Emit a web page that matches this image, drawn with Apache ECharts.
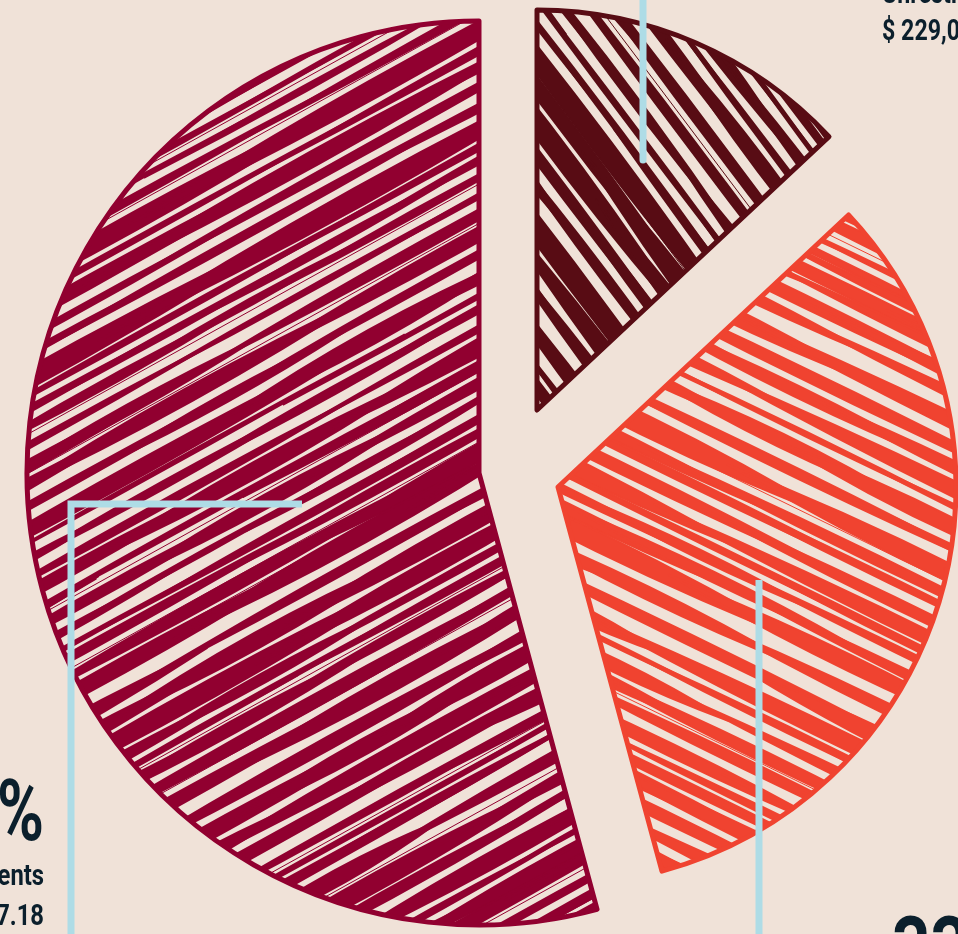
<!DOCTYPE html>
<html>
<head>
<meta charset="utf-8">
<script src="https://cdn.jsdelivr.net/npm/echarts@6/dist/echarts.min.js"></script>
<style>
  html, body { margin: 0; padding: 0; background: #F0E2D8; }
  #chart { width: 958px; height: 934px; }
</style>
</head>
<body>
<div id="chart"></div>
<script>
// data
var sliceNames = ['Unrestricted', 'Restricted', 'Endowments'];
var sliceAmounts = [229045, 576310, 953287.18];
var sliceColors = ['#580C14', '#F04330', '#910030'];

var W = 958, H = 934;
var lineBlue = '#AEDCE6';
var ink = '#0B1F2C';
var font = 'Roboto, "DejaVu Sans Condensed", sans-serif';

function lcg(s) {
    return function () {
        s = (s * 1664525 + 1013904223) % 4294967296;
        return s / 4294967296;
    };
}

// scribbled hatch texture, one full-size canvas per slice
function hatch(color, angleDeg, seed) {
    var c = document.createElement('canvas');
    c.width = W; c.height = H;
    var g = c.getContext('2d');
    g.strokeStyle = color;
    g.fillStyle = color;
    g.lineCap = 'round';
    g.lineJoin = 'round';
    var a = angleDeg * Math.PI / 180;
    var dx = Math.cos(a), dy = Math.sin(a), nx = -dy, ny = dx;
    var cx = W / 2, cy = H / 2, R = Math.hypot(W, H) / 2 + 60;
    var rnd = lcg(seed);
    var off = -R;
    while (off < R) {
        var w = 4 + 12 * rnd();
        var t = -R - 300 * rnd();
        while (t < R) {
            var len = 240 + 420 * rnd();
            var ww = w * (0.75 + 0.6 * rnd());
            var o = off + ww / 2 + (rnd() - 0.5) * 3;
            var x0 = cx + nx * o + dx * t, y0 = cy + ny * o + dy * t;
            var x1 = x0 + dx * len, y1 = y0 + dy * len;
            var mx = (x0 + x1) / 2, my = (y0 + y1) / 2;
            g.beginPath();
            g.moveTo(x0, y0);
            g.quadraticCurveTo(mx + nx * ww, my + ny * ww, x1, y1);
            g.quadraticCurveTo(mx - nx * ww, my - ny * ww, x0, y0);
            g.fill();
            g.lineWidth = 2;
            g.stroke();
            t += len * (0.5 + 0.3 * rnd());
        }
        // thin scribble line in some gaps
        if (rnd() < 0.2) {
            var o2 = off + w + 3;
            g.beginPath();
            g.moveTo(cx + nx * o2 - dx * R, cy + ny * o2 - dy * R);
            g.lineTo(cx + nx * o2 + dx * R, cy + ny * o2 + dy * R);
            g.lineWidth = 1;
            g.stroke();
        }
        off += w + 3 + 8 * rnd();
    }
    return c;
}

var total = sliceAmounts.reduce(function (s, v) { return s + v; }, 0);
function pct(i) { return Math.round(sliceAmounts[i] / total * 100) + '%'; }
function money(v) {
    var opts = v % 1 ? { minimumFractionDigits: 2, maximumFractionDigits: 2 } : {};
    return '$ ' + v.toLocaleString('en-US', opts);
}

// each slice is pulled out on its own, so one pie series per slice
var layout = [
    { center: [537, 410], r: 400, angle: 53, seed: 11 },
    { center: [558, 487], r: 398, angle: 26, seed: 23 },
    { center: [479, 473], r: 452, angle: -29, seed: 37 }
];

var series = layout.map(function (l, k) {
    return {
        type: 'pie',
        silent: true,
        animation: false,
        center: l.center,
        radius: l.r,
        startAngle: 90,
        clockwise: true,
        label: { show: false },
        labelLine: { show: false },
        emphasis: { disabled: true },
        data: sliceAmounts.map(function (v, i) {
            return {
                value: v,
                name: sliceNames[i],
                itemStyle: i === k ? {
                    color: { image: hatch(sliceColors[i], l.angle, l.seed), repeat: 'repeat' },
                    borderColor: sliceColors[i],
                    borderWidth: 5,
                    borderJoin: 'round'
                } : { color: 'rgba(0,0,0,0)', borderWidth: 0 }
            };
        })
    };
});

function label(text, x, y, size, align, sx) {
    return {
        type: 'text', z: 100, x: x, y: y, scaleX: sx,
        style: { text: text, x: 0, y: 0, fill: ink, font: 'bold ' + size + 'px ' + font,
                 textAlign: align, textVerticalAlign: 'middle' }
    };
}

var chart = echarts.init(document.getElementById('chart'));
option = {
    backgroundColor: '#F0E2D8',
    series: series,
    graphic: [
        { type: 'polyline', z: 100, shape: { points: [[643, -10], [643, 160]] },
          style: { stroke: lineBlue, lineWidth: 7, lineCap: 'round' } },
        { type: 'polyline', z: 100, shape: { points: [[302, 504], [71, 504], [71, 950]] },
          style: { stroke: lineBlue, lineWidth: 7, lineJoin: 'miter' } },
        { type: 'polyline', z: 100, shape: { points: [[759, 580], [759, 950]] },
          style: { stroke: lineBlue, lineWidth: 7 } },

        label(sliceNames[0], 882, -4, 29, 'left', 0.8),
        label(money(sliceAmounts[0]), 882, 33, 29, 'left', 0.8),

        label(pct(2), 44, 818, 86, 'right', 0.74),
        label(sliceNames[2], 44, 878, 29, 'right', 0.82),
        label(money(sliceAmounts[2]), 44, 918, 29, 'right', 0.82),

        label(pct(1), 892, 955, 86, 'left', 0.78)
    ]
};
chart.setOption(option);
</script>
</body>
</html>
